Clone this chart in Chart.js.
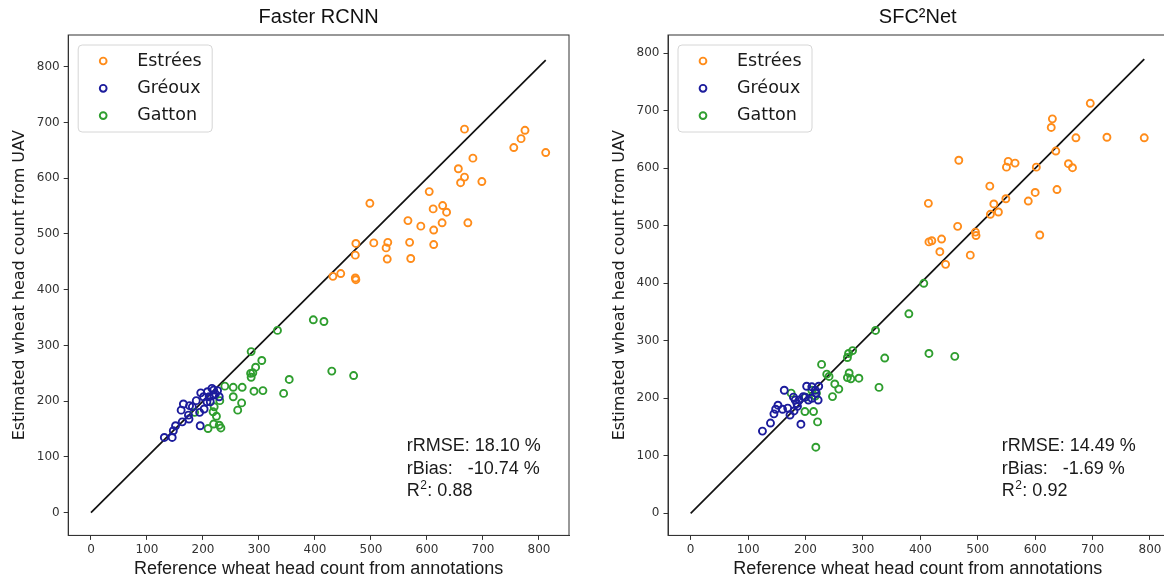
<!DOCTYPE html>
<html>
<head>
<meta charset="utf-8">
<script src="https://cdn.jsdelivr.net/npm/chart.js@4.4.0/dist/chart.umd.min.js"></script>
<style>
  html, body { margin: 0; padding: 0; background: #fff; overflow: hidden; width: 1164px; height: 582px; }
  .panel { position: absolute; top: 0; height: 582px; }
</style>
</head>
<body>
<div class="panel" style="left:0px"><canvas id="leftChart" width="580" height="582"></canvas></div>
<div class="panel" style="left:600px"><canvas id="rightChart" width="580" height="582"></canvas></div>
<script>
// sites et valeurs (reference, estimation UAV)
const siteNames = ["Estrées", "Gréoux", "Gatton"];
const tickValues = [0, 100, 200, 300, 400, 500, 600, 700, 800];

const fasterEstrees = [[667,688],[775,686],[768,671],[755,655],[812,646],[682,636],[656,617],[667,602],[660,592],[698,594],
  [604,576],[498,555],[628,551],[611,545],[635,539],[566,524],[589,514],[627,520],[673,520],[612,507],[473,483],[505,484],
  [530,485],[527,475],[569,485],[612,481],[472,462],[529,455],[571,456],[432,424],[446,429],[472,421],[473,418]];
const fasterGreoux = [[131,135],[145,135],[147,147],[151,156],[163,163],[175,168],[174,175],[161,184],[165,195],[181,190],
  [188,201],[194,180],[202,186],[195,156],[196,215],[208,217],[216,223],[219,220],[226,219],[211,208],[207,199],[201,208],
  [229,208],[219,211],[176,192],[213,199],[222,213]];
const fasterGatton = [[397,346],[416,343],[333,327],[286,289],[305,273],[294,261],[289,251],[285,250],[286,243],[430,254],
  [469,246],[354,239],[239,227],[254,225],[270,225],[291,218],[307,219],[344,214],[254,208],[269,197],[262,184],[230,201],
  [220,190],[218,181],[224,173],[219,159],[209,151],[229,157],[232,152],[185,180]];

const sfcEstrees = [[696,713],[630,686],[628,671],[671,653],[725,654],[790,653],[636,630],[467,614],[553,612],[565,609],
  [550,602],[602,602],[658,608],[665,601],[521,569],[600,558],[638,563],[549,547],[588,543],[528,538],[414,539],[536,524],
  [522,520],[465,499],[496,489],[497,483],[608,484],[415,472],[420,474],[437,477],[434,455],[487,449],[444,433]];
const sfcGreoux = [[125,143],[139,157],[145,173],[148,181],[152,188],[160,181],[163,214],[169,183],[173,171],[180,178],
  [182,197],[185,191],[186,186],[179,202],[189,197],[192,155],[202,221],[211,220],[217,214],[223,221],[222,197],[211,200],
  [199,202],[205,197],[196,203],[218,209]];
const sfcGatton = [[406,400],[380,347],[322,318],[415,278],[460,273],[338,270],[282,283],[275,278],[273,271],[276,244],
  [273,236],[279,234],[293,235],[228,259],[237,242],[241,238],[251,225],[258,216],[328,219],[247,203],[219,209],[175,209],
  [199,177],[214,177],[221,159],[218,115],[211,214],[217,204],[200,202]];

const fasterStats = ["18.10 %", "-10.74 %", "0.88"];
const sfcStats = ["14.49 %", "-1.69 %", "0.92"];

const siteColors = ["#ff8c1a", "#1c1c9c", "#2f9e2f"];

Chart.defaults.font.family = "DejaVu Sans";
Chart.defaults.animation = false;

// cadre complet autour de la zone du graphique
const framePlugin = {
  id: "frame",
  afterDatasetsDraw(chart) {
    const { ctx, chartArea: a } = chart;
    ctx.save();
    ctx.strokeStyle = "#333";
    ctx.lineWidth = 1;
    ctx.strokeRect(a.left, a.top, a.right - a.left, a.bottom - a.top);
    ctx.restore();
  },
};

// légende dans un cadre arrondi en haut à gauche
const boxLegendPlugin = {
  id: "boxLegend",
  afterDraw(chart) {
    const { ctx, chartArea: a } = chart;
    const x0 = a.left + 10, y0 = a.top + 10, w = 134, h = 87;
    ctx.save();
    ctx.beginPath();
    ctx.roundRect(x0, y0, w, h, 4);
    ctx.fillStyle = "rgba(255,255,255,0.85)";
    ctx.fill();
    ctx.strokeStyle = "#d6d6d6";
    ctx.lineWidth = 1;
    ctx.stroke();
    siteNames.forEach((name, i) => {
      const cy = y0 + 16 + i * 27.3;
      ctx.beginPath();
      ctx.arc(x0 + 25, cy, 3.4, 0, Math.PI * 2);
      ctx.strokeStyle = siteColors[i];
      ctx.lineWidth = 1.9;
      ctx.stroke();
      ctx.fillStyle = "#1a1a1a";
      ctx.font = '17.5px "DejaVu Sans"';
      ctx.textBaseline = "middle";
      ctx.fillText(name, x0 + 59, cy);
    });
    ctx.restore();
  },
};

// texte des statistiques en bas à droite
const statsPlugin = {
  id: "stats",
  afterDraw(chart, args, opts) {
    const { ctx, chartArea: a } = chart;
    const x = a.left + opts.dx;
    const y = a.top + 415.7;
    ctx.save();
    ctx.fillStyle = "#1a1a1a";
    ctx.textBaseline = "alphabetic";
    ctx.font = '18px "Liberation Sans"';
    ctx.fillText("rRMSE: " + opts.values[0], x, y);
    ctx.fillText("rBias:" + opts.gap + opts.values[1], x, y + 23.3);
    ctx.fillText("R", x, y + 45.3);
    const rw = ctx.measureText("R").width;
    ctx.font = '12px "Liberation Sans"';
    ctx.fillText("2", x + rw + 0.5, y + 45.3 - 7.5);
    const sw = ctx.measureText("2").width;
    ctx.font = '18px "Liberation Sans"';
    ctx.fillText(": " + opts.values[2], x + rw + sw + 1, y + 45.3);
    ctx.restore();
  },
};

function toPoints(pairs) {
  return pairs.map(([x, y]) => ({ x: x, y: y }));
}

function makeChart(id, cfg) {
  const all = cfg.series.flat();
  const lineEnd = Math.max(...all.map((p) => Math.max(p[0], p[1])));

  const datasets = cfg.series.map((pairs, i) => ({
    label: siteNames[i],
    data: toPoints(pairs),
    borderColor: siteColors[i],
    backgroundColor: "rgba(0,0,0,0)",
    borderWidth: 1.9,
    pointRadius: 3.5,
    pointHoverRadius: 3.5,
  }));
  datasets.push({
    label: "1:1",
    data: [{ x: 0, y: 0 }, { x: lineEnd, y: lineEnd }],
    showLine: true,
    borderColor: "#111",
    borderWidth: 1.7,
    pointRadius: 0,
    order: 10,
  });

  const tickFont = { family: "DejaVu Sans", size: 12 };
  return new Chart(document.getElementById(id), {
    type: "scatter",
    data: { datasets: datasets },
    options: {
      responsive: false,
      events: [],
      layout: { padding: { left: 0, right: cfg.padRight, top: 0, bottom: 0 } },
      scales: {
        x: {
          type: "linear",
          min: cfg.xMin,
          max: cfg.xMax,
          afterBuildTicks: (s) => { s.ticks = tickValues.map((v) => ({ value: v })); },
          afterFit: (s) => { s.height = 46.6; },
          grid: { drawOnChartArea: false, drawTicks: true, tickLength: 4.5, color: "#333" },
          border: { display: true, color: "#333", width: 1 },
          ticks: { font: tickFont, color: "#333", padding: 3, maxRotation: 0, autoSkip: false },
          title: {
            display: true,
            text: "Reference wheat head count from annotations",
            font: { family: "Liberation Sans", size: 18 },
            color: "#1a1a1a",
            padding: { top: 0, bottom: 2.2 },
          },
        },
        y: {
          type: "linear",
          min: cfg.yMin,
          max: cfg.yMax,
          afterBuildTicks: (s) => { s.ticks = tickValues.map((v) => ({ value: v })); },
          afterFit: (s) => { s.width = cfg.yWidth; },
          grid: { drawOnChartArea: false, drawTicks: true, tickLength: 4.5, color: "#333" },
          border: { display: true, color: "#333", width: 1 },
          ticks: { font: tickFont, color: "#333", padding: 4, autoSkip: false },
          title: {
            display: true,
            text: "Estimated wheat head count from UAV",
            font: { family: "DejaVu Sans", size: 16 },
            color: "#1a1a1a",
            padding: { top: 10.4, bottom: 0 },
          },
        },
      },
      plugins: {
        legend: { display: false },
        tooltip: { enabled: false },
        title: {
          display: true,
          text: cfg.title,
          fullSize: false,
          font: { family: "Liberation Sans", size: 20, weight: "normal" },
          color: "#111",
          padding: { top: 5, bottom: 6 },
        },
        stats: { values: cfg.stats, dx: cfg.statsDx, gap: cfg.gap },
      },
    },
    plugins: [framePlugin, boxLegendPlugin, statsPlugin],
  });
}

makeChart("leftChart", {
  title: "Faster RCNN",
  series: [fasterEstrees, fasterGreoux, fasterGatton],
  stats: fasterStats,
  gap: "   ",
  statsDx: 338.5,
  xMin: -40.7, xMax: 853.6,
  yMin: -40.7, yMax: 856.9,
  yWidth: 68.2,
  padRight: 11,
});

makeChart("rightChart", {
  title: "SFC²Net",
  series: [sfcEstrees, sfcGreoux, sfcGatton],
  stats: sfcStats,
  gap: "   ",
  statsDx: 333.7,
  xMin: -39.5, xMax: 830.5,
  yMin: -38.4, yMax: 831.8,
  yWidth: 68,
  padRight: 12.5,
});
</script>
</body>
</html>
